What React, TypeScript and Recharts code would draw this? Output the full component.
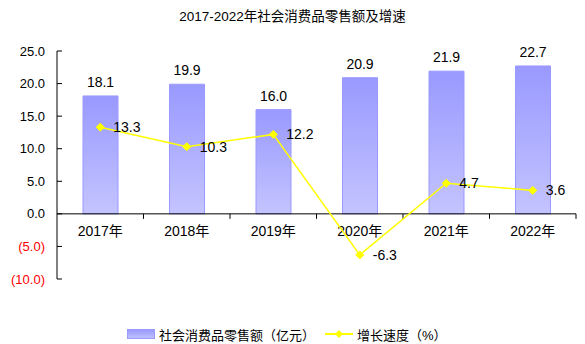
import { ComposedChart, Bar, Line, XAxis, YAxis, ReferenceLine, LabelList, Legend } from 'recharts';

const years = ['2017年', '2018年', '2019年', '2020年', '2021年', '2022年'];
const retailSales = [18.1, 19.9, 16.0, 20.9, 21.9, 22.7];
const growthRate = [13.3, 10.3, 12.2, -6.3, 4.7, 3.6];
const yTicks = [-10, -5, 0, 5, 10, 15, 20, 25];

const W = 585;
const H = 344;
const M = { top: 51, right: 9, left: 0, bottom: 45 };
const Y_AXIS_W = 57;
const LEGEND_H = 20;
const Y_MIN = -10;
const Y_MAX = 25;
const FONT = '"Liberation Sans", Arial, "Noto Sans CJK SC", sans-serif';

const data = years.map((year, i) => ({
  year,
  sales: retailSales[i],
  growth: growthRate[i],
}));

const fmt = (v: number) => (v < 0 ? `(${Math.abs(v).toFixed(1)})` : v.toFixed(1));

function YTick(props: any) {
  const { x, y, payload } = props;
  const v = payload.value as number;
  return (
    <g>
      <line x1={x} x2={x + 5} y1={y} y2={y} stroke="#000" />
      <text x={x - 12} y={y} dy="0.35em" textAnchor="end" fontSize={13} fontFamily={FONT} fill={v < 0 ? '#FF0000' : '#000'}>
        {fmt(v)}
      </text>
    </g>
  );
}

// category axis drawn along the zero line
function ZeroAxis(props: any) {
  const vb = props.viewBox;
  if (!vb) return null;
  const band = vb.width / years.length;
  const y0 = vb.y;
  return (
    <g>
      {years.map((yr, i) => (
        <g key={yr}>
          <line x1={vb.x + (i + 1) * band} x2={vb.x + (i + 1) * band} y1={y0} y2={y0 + 5} stroke="#000" />
          <text x={vb.x + (i + 0.5) * band} y={y0 + 17} dy="0.35em" textAnchor="middle" fontSize={14} fontFamily={FONT} fill="#000">
            {yr}
          </text>
        </g>
      ))}
    </g>
  );
}

function Diamond(props: any) {
  const { cx, cy } = props;
  if (cx == null || cy == null) return null;
  const r = 4;
  return (
    <path d={`M${cx},${cy - r}L${cx + r},${cy}L${cx},${cy + r}L${cx - r},${cy}Z`} fill="#FFFF00" stroke="#FFFF00" />
  );
}

function LegendContent() {
  return (
    <div style={{ display: 'flex', alignItems: 'center', height: LEGEND_H, fontFamily: FONT, fontSize: 13, color: '#000', whiteSpace: 'nowrap' }}>
      <span style={{ display: 'inline-block', width: 26, height: 8, border: '1px solid #9999FF', background: 'linear-gradient(#9999FF, #C0C0FF)' }} />
      <span style={{ marginLeft: 4 }}>社会消费品零售额（亿元）</span>
      <svg width={28} height={10} style={{ marginLeft: 10 }}>
        <line x1={0} x2={28} y1={5} y2={5} stroke="#FFFF00" strokeWidth={2} />
        <path d="M14,1L18,5L14,9L10,5Z" fill="#FFFF00" />
      </svg>
      <span style={{ marginLeft: 4 }}>增长速度（%）</span>
    </div>
  );
}

export default function App() {
  return (
    <div style={{ position: 'absolute', left: 0, top: 0, width: W, height: H, background: '#fff' }}>
      <div style={{ position: 'absolute', top: 5, left: 0, width: W, textAlign: 'center', fontFamily: FONT, fontSize: 13.5, color: '#000' }}>
        2017-2022年社会消费品零售额及增速
      </div>
      <ComposedChart width={W} height={H} data={data} margin={M}>
        <defs>
          <linearGradient id="barGrad" x1="0" y1="0" x2="0" y2="1">
            <stop offset="0%" stopColor="#9999FF" />
            <stop offset="100%" stopColor="#C4C4FF" />
          </linearGradient>
        </defs>
        <XAxis dataKey="year" hide />
        <YAxis
          width={Y_AXIS_W}
          domain={[Y_MIN, Y_MAX]}
          ticks={yTicks}
          interval={0}
          tickSize={0}
          tickMargin={0}
          tickLine={false}
          axisLine={{ stroke: '#000' }}
          tick={<YTick />}
        />
        <Legend content={<LegendContent />} verticalAlign="bottom" wrapperStyle={{ left: 127, bottom: 0, width: 'auto' }} />
        <Bar dataKey="sales" barSize={35} fill="url(#barGrad)" stroke="#9999FF" isAnimationActive={false}>
          <LabelList dataKey="sales" position="top" offset={9} formatter={(v: any) => Number(v).toFixed(1)} fontSize={14} fontFamily={FONT} fill="#000" />
        </Bar>
        <ReferenceLine y={0} stroke="#000" label={<ZeroAxis />} />
        <Line dataKey="growth" stroke="#FFFF00" strokeWidth={1.5} dot={<Diamond />} activeDot={false} isAnimationActive={false}>
          <LabelList dataKey="growth" position="right" offset={13} formatter={(v: any) => Number(v).toFixed(1)} fontSize={14} fontFamily={FONT} fill="#000" />
        </Line>
      </ComposedChart>
    </div>
  );
}
